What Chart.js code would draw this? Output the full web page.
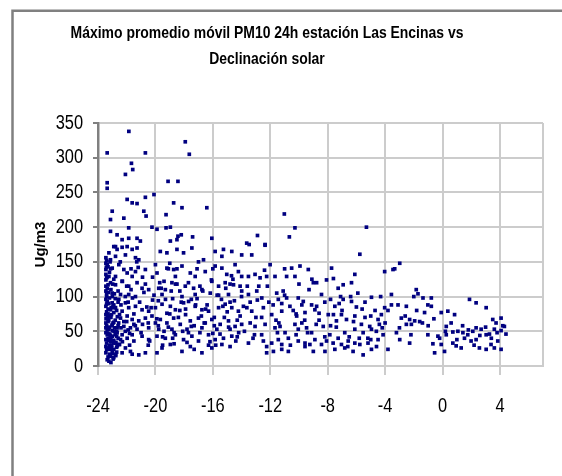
<!DOCTYPE html>
<html><head><meta charset="utf-8">
<script src="https://cdn.jsdelivr.net/npm/chart.js@4.4.1/dist/chart.umd.min.js"></script>
<style>
html,body{margin:0;padding:0;background:#fff;overflow:hidden;width:562px;height:476px;}
#wrap{position:absolute;left:-11px;top:0;width:573px;height:476px;}
</style></head><body>
<div id="wrap"><canvas id="c" width="573" height="476"></canvas></div>
<script>
const titleLines = ['Máximo promedio móvil PM10 24h estación Las Encinas vs', 'Declinación solar'];
const yAxisTitle = 'Ug/m3';
const xTickValues = [-24, -20, -16, -12, -8, -4, 0, 4];
const yTickValues = [0, 50, 100, 150, 200, 250, 300, 350];

// Declinación solar (grados)
const declination = [
  -21.85,-23.36,-20.7,-17.92,-17.64,-21.67,-21.58,-22.09,-23.36,-23.36,-19.12,-18.43,-20.7,-20.1,-21.97,-21.62,-21.28,-18.73,-18.15,-16.42,-23.01,-23.13,-22.2,-20.81,-20.65,-19.26,-21.86,-20.24,-19.89,-19.26,-18.96,-23.13,-22.67,-18.43,-18.2,-18.5,-17.41,-16.07,-18.96,-21.86,-21.28,-21.05,-22.32,-22.78,-13.64,
  -11.02,-10.28,-10.67,-12.89,-13.47,-12.36,-5.3,
  -22.9,-22.67,-22.32,-21.97,-21.62,-21.28,-23.24,-22.78,-22.09,-21.39,-21.16,-19.66,-19.2,-18.5,-18.04,-17.46,-16.65,-15.84,-15.26,-14.68,-15.37,-13.99,-23.45,-23.13,
  -23.45,-23.36,-23.45,-23.01,-22.55,-22.2,-21.97,-21.39,-20.7,-20.0,-19.89,-19.2,-18.73,-18.15,-17.57,-17.23,-16.53,-15.84,-15.37,-15.03,-14.45,-14.22,-13.99,-23.45,-23.24,-22.78,-21.62,-18.61,
  -23.45,-23.13,-23.36,-22.78,-22.32,-21.86,-21.28,-20.93,-20.47,-19.77,-19.31,-18.85,-18.5,-17.92,-17.34,-16.76,-16.07,-15.6,-15.14,-14.56,-13.99,-23.45,-23.01,-22.43,-21.86,-21.39,-19.54,-18.15,-17.23,-16.18,-14.91,
  -23.45,-23.36,-23.01,-22.55,-22.09,-23.45,-23.13,-22.78,-22.32,-21.86,-21.39,-20.93,-20.47,-20.0,-19.54,-18.96,-18.61,-18.04,-17.69,-17.23,-16.76,-16.3,-15.6,-15.14,-14.68,-14.22,-13.87,
  -23.45,-23.24,-22.9,-22.43,-21.97,-21.62,-21.16,-20.7,-20.24,-19.66,-19.2,-18.73,-18.27,-17.57,-17.0,-16.53,-16.07,-15.49,-14.91,-14.45,-13.99,-23.45,-23.01,
  -22.67,-22.2,-21.74,-23.45,-23.24,-21.28,-20.47,-19.77,-18.85,-17.8,-16.76,-15.72,-14.8,
  -23.45,-23.36,-23.01,-22.67,-22.32,-23.45,-23.13,-22.78,-22.43,-21.97,-21.62,-20.93,-20.47,-19.89,-19.31,-18.61,-18.04,-17.46,-17.0,-16.3,-15.84,-15.26,-14.68,
  -23.45,-23.24,-22.9,-22.55,-22.09,-21.74,-21.16,-20.7,-19.89,-19.54,-18.96,-18.15,-17.57,-16.76,-16.07,-15.37,-14.8,-23.45,-23.13,-23.36,-23.24,-22.78,-22.32,-21.62,
  -13.29,-12.36,-5.76,-12.01,-10.51,-9.93,-9.35,-7.73,-6.11,-4.03,-3.45,
  -13.52,-13.06,-12.71,-12.25,-11.67,-10.86,-10.28,-8.77,-8.08,-7.27,-6.92,-6.34,
  -13.52,-12.94,-12.59,-11.55,-11.44,-10.86,-10.05,-9.7,-9.12,-8.77,-8.43,-7.5,-6.92,-6.34,-4.95,-4.31,-3.56,-3.56,-4.03,-4.26,
  -13.63,-13.29,-12.48,-11.9,-11.2,-10.63,-10.16,-9.58,-8.89,-7.96,-7.39,-7.04,-6.69,-6.11,-5.65,-5.07,-4.49,
  -13.4,-13.06,-12.36,-11.67,-11.32,-10.97,-10.28,-10.05,-9.47,-9.12,-8.31,-7.85,-7.27,-6.81,-6.11,-5.53,-4.95,-4.61,-4.14,
  -13.52,-12.48,-12.25,-11.9,-11.44,-11.2,-10.74,-10.05,-9.58,-9.24,-8.89,-8.43,-8.08,-7.62,-7.04,-6.57,-6.11,-5.76,-5.19,-4.49,
  -12.25,-11.78,-11.2,-10.74,-9.58,-9.0,-8.19,-7.5,-6.81,-6.23,-5.53,-4.95,-3.8,
  -2.98,-3.33,-1.83,-1.71,-1.36,-0.78,-1.02,-0.78,-3.1,-2.52,-1.25,-0.09,0.37,0.84,1.88,2.34,3.04,
  -2.87,-2.29,-1.94,-1.59,-2.52,-2.17,0.26,3.5,3.73,4.08,4.31,
  -3.21,-2.98,-2.29,-1.02,-0.32,0.26,0.72,1.07,1.42,1.76,2.11,2.34,2.69,3.04,3.27,3.61,4.08,4.42,
  -0.67,-0.55,-0.09,0.14,0.72,0.95,1.3,1.53,1.99,2.34,2.57,3.04,3.38,3.61,4.08,3.85,
  -23.4,-23.3,-23.2,-23.4,-23.3,-23.1,-23.4,-23.2,-22.9,-23.3,-23.4,-23.1,-22.8,-23.3,-23.4,-23.0,-22.7,-23.3,-23.1,-22.9,-23.4,-23.2,-22.7,-23.0,-23.4,-23.2,-22.9,-23.3,-23.1,-22.6,-22.5,-22.6,-22.5,-22.7,-22.6,-22.9,-23.0,-22.8,-23.35,-23.25,-22.95,-22.85,-23.05,-23.3,-23.4,-22.7,-22.4,-22.3,-22.1,-22.0,-21.8,-21.5,-21.9,-21.7,-21.5,
  -20.2,-19.8,-19.4,-19.0,-18.7,-18.3,-17.9,-17.5,-17.1,-16.8,-16.4,-16.0,-15.6,-15.2,-14.8,-14.4,-14.1,-20.5,-19.5,-18.8,-17.7,-16.9,-15.9,-15.0,-14.3,-20.9,-19.1,-17.3,-16.2,-14.6,
  -13.1,-12.8,-12.1,-11.6,-11.1,-10.4,-9.8,-9.3,-8.6,-8.2,-7.8,-7.1,-6.5,-6.0,-5.4,-5.0,-4.7,-4.4,-12.6,-11.0,-9.1,-7.6,-5.9,-12.9,-10.2,
  -23.45,-23.4,-23.35,-23.3,-23.25,-23.2,-23.15,-23.1,-23.05,-23.0,-22.95,-22.9,-22.85,-22.8,-22.75,-22.7,-22.65,-22.6,-23.42,-23.38,-23.33,-23.28,-23.22,-23.18,-23.12,-23.08,-23.02,-22.98,-22.92,-22.88,-23.44,-23.36,-23.26,-23.16,-23.06,-22.96,-22.86,-22.76,-22.66,-22.56,
  -22.4,-22.2,-22.0,-21.8,-21.6,-21.4,-21.2,-21.0,-20.8,-20.6,-20.4,-20.2,-20.0,-19.8,-19.6,-19.4,-19.2,-19.0,-18.8,-18.6,-18.4,-18.2,-22.3,-22.1,-21.9,-21.7,-21.5,-21.3,-21.1,-20.9,-20.7,-20.5,-20.3,-20.1,-19.9,-19.7,-19.5,-19.3,-19.1,-18.9,-18.7,-18.5,-18.3,-18.1,-22.45,
  -17.9,-17.7,-17.5,-17.3,-17.1,-16.9,-16.7,-16.5,-16.3,-16.1,-15.9,-15.7,-15.5,-15.3,-15.1,-14.9,-14.7,-14.5,-14.3,-14.1,-17.8,-17.2,-16.6,-16.0,-15.4,-14.8,-14.2,-17.0,-15.8,-14.0,
  -13.8,-13.4,-13.0,-12.6,-12.2,-11.8,-11.4,-11.0,-10.6,-10.2,-9.8,-9.4,-9.0,-8.6,-8.2,-7.8,-7.4,-7.0,-6.6,-6.2,-5.8,-5.4,-5.0,-4.6,-4.2,-3.8,-13.6,-12.4,-11.2,-10.0,-8.8,-7.6,-6.4,-5.2,-4.0,-13.2,-11.5,-9.6,-7.2,-5.6,
  -3.0,-2.6,-2.2,-1.8,-1.4,-1.0,-0.6,-0.2,0.2,0.6,1.0,1.4,1.8,2.2,2.6,3.0,3.4,3.8,4.2,-2.0
];

// Máximo promedio móvil PM10 24h (ug/m3)
const pm10 = [
  338,307,307,323,305,292,283,276,264,256,266,266,243,247,240,235,234,235,228,228,223,211,213,223,216,218,199,200,197,199,200,194,189,187,189,182,186,184,180,184,184,180,182,172,177,
  219,199,186,188,175,175,200,
  172,168,171,172,168,170,163,158,160,156,153,165,163,168,163,170,153,165,168,165,158,160,156,153,
  148,146,139,141,146,139,134,136,139,146,134,141,139,144,134,129,136,144,141,132,146,136,129,132,129,129,129,129,
  124,120,112,117,122,115,120,112,110,112,110,120,118,115,112,110,122,115,120,117,108,108,105,103,103,100,103,100,103,105,103,
  96,93,91,96,91,86,81,84,79,84,86,81,79,84,89,86,81,91,93,86,81,79,84,89,84,79,86,
  74,72,77,69,72,67,65,69,72,67,62,69,60,65,69,62,67,60,65,57,60,62,60,
  55,57,55,55,53,53,55,53,53,53,55,53,53,
  48,45,43,48,45,38,36,33,38,40,45,43,38,43,40,45,38,43,36,45,38,40,43,
  28,26,24,31,26,21,16,19,19,26,31,21,28,19,26,31,28,19,14,9,7,17,19,17,
  160,174,161,146,141,144,139,141,132,136,139,
  129,132,127,129,129,129,129,120,124,112,117,120,
  103,108,98,105,96,98,98,93,88,86,103,86,96,93,99,100,103,88,84,74,
  84,79,84,74,79,86,72,77,81,74,65,74,67,72,60,57,67,
  62,57,60,55,57,48,60,53,55,48,57,45,40,48,53,48,53,50,45,
  33,36,28,33,38,31,40,36,33,31,38,31,36,33,31,36,33,31,33,38,
  19,21,24,21,28,21,21,24,26,21,16,24,24,
  148,140,110,104,98,98,88,86,88,86,77,77,79,74,96,91,84,
  69,67,65,64,60,60,57,67,62,69,57,
  48,38,33,45,43,45,49,50,48,45,50,55,53,45,46,53,51,46,
  32,19,31,21,33,29,26,40,36,38,26,24,31,26,24,36,
  152,143,135,127,117,110,100,98,88,82,78,70,66,64,58,51,50,47,40,37,33,30,27,22,24,17,12,13,5,40,31,58,74,80,108,125,100,45,70,90,62,55,30,40,89,20,55,35,50,64,47,60,92,110,75,
  95,58,122,75,48,108,82,57,97,72,88,47,102,70,92,36,115,62,30,97,48,115,58,78,66,128,140,24,35,125,
  45,115,92,66,108,80,62,110,66,92,58,100,42,85,70,38,80,60,70,140,125,74,105,95,45,
  115,104,92,75,66,56,44,35,27,18,10,63,84,97,34,43,71,92,142,128,54,37,24,46,140,84,58,118,33,50,68,52,106,150,74,86,104,15,29,62,
  88,64,115,30,98,58,142,48,106,85,36,128,62,94,112,50,76,148,40,118,70,92,122,100,52,140,36,150,92,60,118,30,84,102,68,120,42,96,56,108,32,140,80,50,150,
  74,120,96,58,140,48,108,82,30,124,70,102,46,86,112,56,130,94,42,72,34,88,62,140,96,118,48,150,30,100,
  50,92,70,45,115,88,62,102,30,75,88,48,120,76,42,96,56,80,28,64,40,92,72,28,55,80,115,138,90,118,60,126,100,40,62,40,48,66,90,82,
  55,72,45,80,62,58,68,40,50,62,38,58,52,30,44,56,40,48,58,100
];

const BASE_FONT = "'Liberation Sans', Arial, sans-serif";
const points = declination.map((x, i) => ({ x: x, y: pm10[i] }));

const canvasCtx = document.getElementById('c').getContext('2d');
// Narrow (Arial-Narrow-like) rendering of the chart texts: compress glyphs horizontally
const nativeFillText = canvasCtx.fillText.bind(canvasCtx);
canvasCtx.fillText = function (text, x, y, maxWidth) {
  const k = (text === yAxisTitle) ? 1 : 0.82;
  this.save();
  this.translate(x, y);
  this.scale(k, 1);
  if (maxWidth === undefined) nativeFillText(text, 0, 0);
  else nativeFillText(text, 0, 0, maxWidth / k);
  this.restore();
};

const framePlugin = {
  id: 'frame',
  beforeDraw(chart) {
    const c = chart.ctx;
    c.save();
    c.fillStyle = '#ffffff';
    c.fillRect(0, 0, chart.width, chart.height);
    c.strokeStyle = '#808080';
    c.lineWidth = 2.5;
    c.beginPath();
    c.moveTo(23.5, chart.height);
    c.lineTo(23.5, 10.8);
    c.lineTo(chart.width, 10.8);
    c.stroke();
    c.restore();
  }
};

const X_MAX = 7;

new Chart(canvasCtx, {
  type: 'scatter',
  data: {
    datasets: [{
      data: points,
      pointStyle: 'rect',
      pointRadius: 2.6,
      pointHoverRadius: 2.6,
      backgroundColor: '#000080',
      borderColor: '#000080',
      borderWidth: 0
    }]
  },
  options: {
    responsive: false,
    animation: false,
    devicePixelRatio: 1,
    layout: { padding: { left: 0, right: 17, top: 0, bottom: 0 } },
    plugins: {
      legend: { display: false },
      tooltip: { enabled: false },
      title: {
        display: true,
        text: titleLines,
        color: '#000000',
        font: { family: BASE_FONT, size: 17, weight: 'bold', lineHeight: 1.56 },
        padding: { top: 20, bottom: 50 }
      }
    },
    scales: {
      x: {
        type: 'linear',
        min: -24,
        max: X_MAX,
        afterBuildTicks: s => { s.ticks = xTickValues.concat([X_MAX]).map(v => ({ value: v })); },
        afterFit: s => { s.height = 110; },
        grid: {
          color: '#cccccc',
          lineWidth: 2,
          tickLength: 9,
          tickColor: ctx => (ctx.tick && ctx.tick.value === X_MAX) ? 'rgba(0,0,0,0)' : '#cccccc'
        },
        border: { color: '#cccccc', width: 2 },
        ticks: {
          padding: 19,
          color: '#000000',
          font: { family: BASE_FONT, size: 20 },
          maxRotation: 0,
          autoSkip: false,
          callback: v => xTickValues.includes(v) ? String(v) : ''
        }
      },
      y: {
        type: 'linear',
        min: 0,
        max: 350,
        afterBuildTicks: s => { s.ticks = yTickValues.map(v => ({ value: v })); },
        afterFit: s => { s.width = 109; },
        grid: { color: '#cccccc', lineWidth: 2, tickLength: 5, tickColor: '#808080' },
        border: { color: '#808080', width: 2.5 },
        ticks: { padding: 10, color: '#000000', font: { family: BASE_FONT, size: 20 } },
        title: {
          display: true,
          text: yAxisTitle,
          color: '#000000',
          font: { family: BASE_FONT, size: 15, weight: 'bold' },
          padding: { top: 43, bottom: 0 }
        }
      }
    }
  },
  plugins: [framePlugin]
});
</script>
</body></html>
